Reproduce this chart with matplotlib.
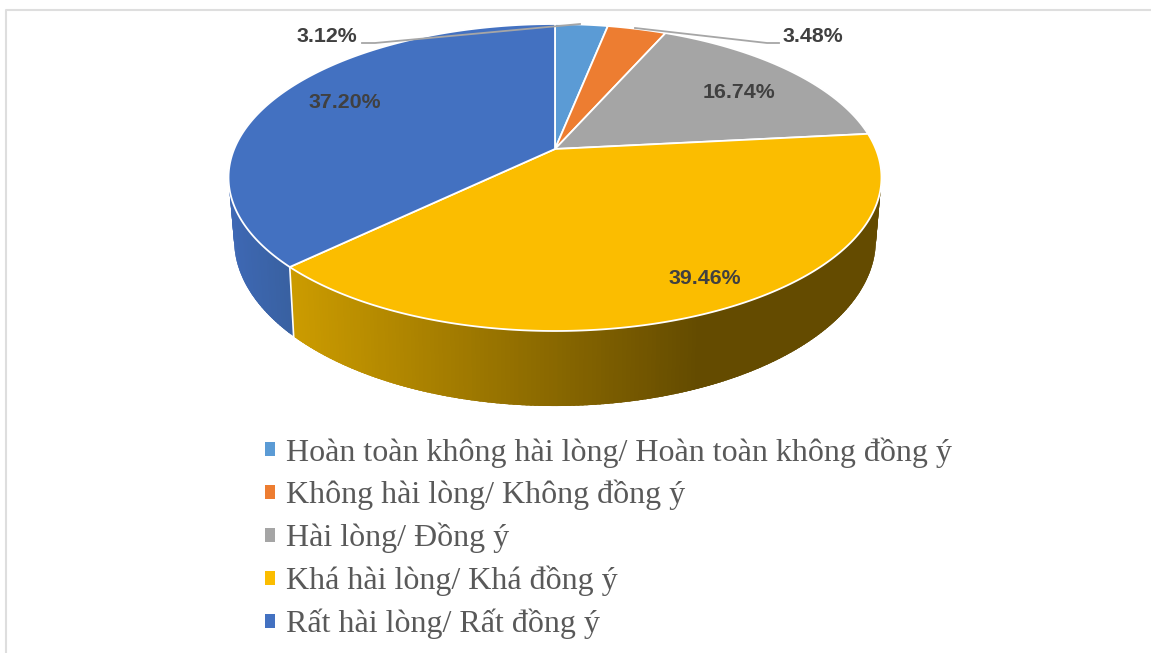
import numpy as np
import matplotlib
matplotlib.use("Agg")
import matplotlib.pyplot as plt
from matplotlib.patches import Patch
from matplotlib.colors import to_rgb

labels = ["Hoàn toàn không hài lòng/ Hoàn toàn không đồng ý",
          "Không hài lòng/ Không đồng ý",
          "Hài lòng/ Đồng ý",
          "Khá hài lòng/ Khá đồng ý",
          "Rất hài lòng/ Rất đồng ý"]
values = [3.12, 3.48, 16.74, 39.46, 37.20]
colors = ["#5B9BD5", "#ED7D31", "#A5A5A5", "#FBBD00", "#4371C1"]
pct_text = ["3.12%", "3.48%", "16.74%", "39.46%", "37.20%"]
label_pos = [(327, 36), (813, 36), (739, 92), (705, 278), (345, 102)]

CX = 555


def top_rim(t):
    # t = clockwise angle from 12 o'clock, radians. tilted disc with perspective
    u, v = np.sin(t), np.cos(t)
    w = 1 + 0.1857 * v
    return CX + 320.8 * u / w, 149 - 148.2 * v / w


def low_rim(t):
    u, v = np.sin(t), np.cos(t)
    w = 1 + 0.19 * v
    return CX + 315 * u / w, 208.5 - 160 * v / w


def wall_color(i, x):
    # side wall gets darker going left to right, flat after x=700
    if i == 3:
        a = np.clip((x - 290) / (700 - 290), 0, 1)
        c0, c1 = np.array(to_rgb("#CC9C00")), np.array(to_rgb("#644B00"))
        return tuple(c0 + (c1 - c0) * a)
    if i == 4:
        a = np.clip((x - 230) / 65, 0, 1)
        c0, c1 = np.array(to_rgb("#3E68B4")), np.array(to_rgb("#38609F"))
        return tuple(c0 + (c1 - c0) * a)
    return tuple(np.array(to_rgb(colors[i])) * 0.6)


fig = plt.figure(figsize=(11.51, 6.53), dpi=100)
ax = fig.add_axes([0, 0, 1, 1])
ax.set_xlim(0, 1151)
ax.set_ylim(653, 0)
ax.axis("off")

# chart frame
ax.plot([6.5, 6.5, 1151], [653, 10, 10], color="#DEDEDE", lw=1.5)

edges = np.cumsum([0] + values) / sum(values) * 2 * np.pi

# side wall strips, each one runs over the next to hide the seams
for i in range(len(values)):
    n = max(int((edges[i + 1] - edges[i]) * 90), 2)
    tt = np.linspace(edges[i], edges[i + 1], n + 1)
    step = tt[1] - tt[0]
    for a in tt[:-1]:
        b = min(a + 2.5 * step, edges[i + 1])
        ss = np.linspace(a, b, 5)
        xa, ya = top_rim(ss)
        xd, yd = low_rim(ss)
        c = wall_color(i, top_rim(a + step / 2)[0])
        ax.fill(np.r_[xa, xd[::-1]], np.r_[ya, yd[::-1]], color=c, lw=0, zorder=2)

# white seam where blue and yellow walls meet
x1, y1 = top_rim(edges[4])
x2, y2 = low_rim(edges[4])
ax.plot([x1, x2], [y1, y2], color="white", lw=1.2, zorder=3)

# top face
for i in range(len(values)):
    tt = np.linspace(edges[i], edges[i + 1], 200)
    xs, ys = top_rim(tt)
    ax.fill(np.r_[CX, xs], np.r_[149, ys], facecolor=colors[i], edgecolor="white",
            lw=1.3, joinstyle="round", zorder=4)

# leader lines for the two small slices
ax.plot([362, 375, 580], [43, 43, 24], color="#A6A6A6", lw=1.3, zorder=5)
ax.plot([635, 767, 779], [28, 43, 43], color="#A6A6A6", lw=1.3, zorder=5)

for txt, (x, y) in zip(pct_text, label_pos):
    ax.text(x, y, txt, ha="center", va="center", fontsize=15.4, fontweight="bold",
            family="Liberation Sans", color="#404040", zorder=6)

handles = [Patch(facecolor=c, edgecolor="none") for c in colors]
leg = ax.legend(handles, labels, loc="upper left", bbox_to_anchor=(265 / 1151, 1 - 437 / 653),
                frameon=False, prop={"family": "Liberation Serif", "size": 23},
                labelcolor="#595959", handlelength=0.32, handleheight=0.32,
                handletextpad=0.35, labelspacing=0.39, borderpad=0, borderaxespad=0)

fig.savefig("out.png", dpi=100)
